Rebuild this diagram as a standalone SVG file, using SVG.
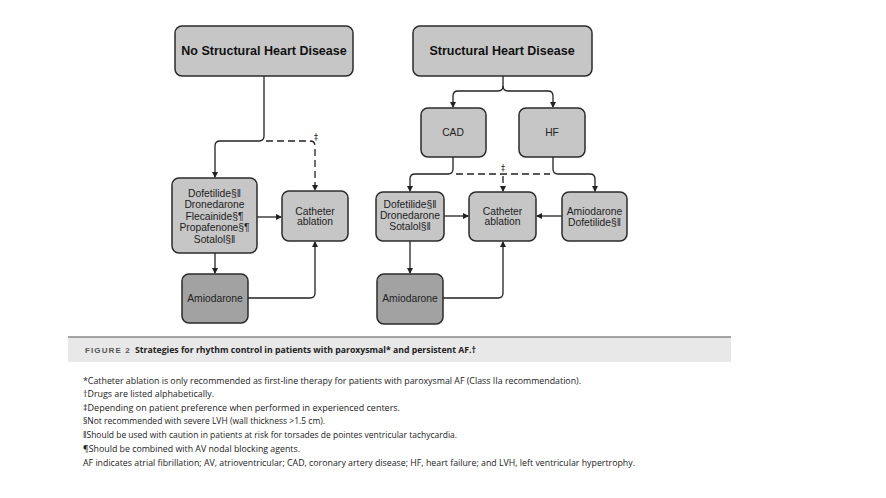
<svg xmlns="http://www.w3.org/2000/svg" width="886" height="498" viewBox="0 0 886 498">
<style>
.box{fill:#c6c6c6;stroke:#2b2b2b;stroke-width:1.5}
.dark{fill:#a2a2a2;stroke:#2b2b2b;stroke-width:1.5}
.t{font-family:"Liberation Sans",Arial,sans-serif;font-size:10.3px;fill:#222;text-anchor:middle}
.h{font-family:"Liberation Sans",Arial,sans-serif;font-size:12.5px;font-weight:bold;fill:#111;text-anchor:middle}
.ln{fill:none;stroke:#222;stroke-width:1.3}
.ds{fill:none;stroke:#222;stroke-width:1.3;stroke-dasharray:7,4}
.fn{font-family:"Open Sans","Liberation Sans",sans-serif;font-size:9.6px;fill:#222}
.sym{font-family:"DejaVu Sans",sans-serif;font-size:8px;fill:#222;text-anchor:middle}
</style>
<defs>
<marker id="ah" markerWidth="6" markerHeight="6" refX="5" refY="3" orient="auto" markerUnits="userSpaceOnUse">
<path d="M0,0 L6,3 L0,6 z" fill="#222"/>
</marker>
</defs>
<rect width="886" height="498" fill="#fff"/>

<g id="connectors">
<path class="ln" d="M264,76 V136 Q264,141 259,141 H220 Q215,141 215,146 V177" marker-end="url(#ah)"/>
<path class="ds" d="M266,141 H310 Q315,141 315,146 V190" marker-end="url(#ah)"/>
<path class="ln" d="M257,217 H281" marker-end="url(#ah)"/>
<path class="ln" d="M215,253 V273" marker-end="url(#ah)"/>
<path class="ln" d="M248,298 H310 Q315,298 315,293 V242" marker-end="url(#ah)"/>

<path class="ln" d="M503,76 V86 Q503,91 498,91 H458 Q453,91 453,96 V107" marker-end="url(#ah)"/>
<path class="ln" d="M503,86 Q503,91 508,91 H548 Q553,91 553,96 V107" marker-end="url(#ah)"/>
<path class="ln" d="M453,157 V169 Q453,174 448,174 H415 Q410,174 410,179 V191" marker-end="url(#ah)"/>
<path class="ln" d="M553,157 V169 Q553,174 558,174 H590 Q595,174 595,179 V191" marker-end="url(#ah)"/>
<path class="ds" d="M456,174 H550"/>
<path class="ds" d="M503,176 V191" marker-end="url(#ah)"/>
<path class="ln" d="M444,216 H468" marker-end="url(#ah)"/>
<path class="ln" d="M562,216 H537" marker-end="url(#ah)"/>
<path class="ln" d="M410,241 V273" marker-end="url(#ah)"/>
<path class="ln" d="M443,298 H498 Q503,298 503,293 V242" marker-end="url(#ah)"/>
<text class="sym" x="316" y="140">‡</text>
<text class="sym" x="503" y="171">‡</text>
</g>

<g id="no-shd">
<rect class="box" x="175" y="26" width="178" height="50" rx="7"/>
<text class="h" x="264" y="55">No Structural Heart Disease</text>
</g>
<g id="shd">
<rect class="box" x="413" y="26" width="179" height="50" rx="7"/>
<text class="h" x="502" y="55">Structural Heart Disease</text>
</g>
<g id="cad">
<rect class="box" x="421" y="108" width="65" height="49" rx="7"/>
<text class="t" x="453" y="136">CAD</text>
</g>
<g id="hf">
<rect class="box" x="519" y="108" width="66" height="49" rx="7"/>
<text class="t" x="552" y="136">HF</text>
</g>
<g id="drugs-left">
<rect class="box" x="172" y="178" width="85" height="75" rx="7"/>
<text class="t" x="214.5" y="197">Dofetilide§‖</text>
<text class="t" x="214.5" y="208">Dronedarone</text>
<text class="t" x="214.5" y="220">Flecainide§¶</text>
<text class="t" x="214.5" y="231">Propafenone§¶</text>
<text class="t" x="214.5" y="242.5">Sotalol§‖</text>
</g>
<g id="ablation-left">
<rect class="box" x="282" y="191" width="66" height="50" rx="7"/>
<text class="t" x="315" y="214.5">Catheter</text>
<text class="t" x="315" y="224.5">ablation</text>
</g>
<g id="amio-left">
<rect class="dark" x="182" y="274" width="66" height="49" rx="7"/>
<text class="t" x="215" y="301.5">Amiodarone</text>
</g>
<g id="drugs-cad">
<rect class="box" x="376" y="192" width="68" height="49" rx="7"/>
<text class="t" x="410" y="207.5">Dofetilide§‖</text>
<text class="t" x="410" y="218.5">Dronedarone</text>
<text class="t" x="410" y="230">Sotalol§‖</text>
</g>
<g id="ablation-right">
<rect class="box" x="469" y="192" width="67" height="49" rx="7"/>
<text class="t" x="502.5" y="214.5">Catheter</text>
<text class="t" x="502.5" y="224.5">ablation</text>
</g>
<g id="drugs-hf">
<rect class="box" x="562" y="192" width="65" height="49" rx="7"/>
<text class="t" x="594.5" y="214.5">Amiodarone</text>
<text class="t" x="594.5" y="225.5">Dofetilide§‖</text>
</g>
<g id="amio-right">
<rect class="dark" x="377" y="274" width="66" height="50" rx="7"/>
<text class="t" x="410" y="301.5">Amiodarone</text>
</g>

<g id="caption">
<rect x="68" y="337" width="663" height="25" fill="#e8e8e8"/>
<line x1="68" y1="337" x2="731" y2="337" stroke="#888" stroke-width="1.5"/>
<text x="85" y="353" font-family="'Liberation Sans',sans-serif" font-size="8px" font-weight="bold" fill="#555" letter-spacing="1.1">FIGURE 2</text>
<text x="135" y="353" font-family="'Open Sans','Liberation Sans',sans-serif" font-size="9px" font-weight="bold" fill="#222" textLength="341" lengthAdjust="spacingAndGlyphs">Strategies for rhythm control in patients with paroxysmal* and persistent AF.†</text>
</g>

<g id="footnotes">
<text class="fn" x="83" y="383.5" textLength="498" lengthAdjust="spacingAndGlyphs">*Catheter ablation is only recommended as first-line therapy for patients with paroxysmal AF (Class IIa recommendation).</text>
<text class="fn" x="83" y="397" textLength="131" lengthAdjust="spacingAndGlyphs">†Drugs are listed alphabetically.</text>
<text class="fn" x="83" y="410.7" textLength="317" lengthAdjust="spacingAndGlyphs">‡Depending on patient preference when performed in experienced centers.</text>
<text class="fn" x="83" y="424.4" textLength="242" lengthAdjust="spacingAndGlyphs">§Not recommended with severe LVH (wall thickness &gt;1.5 cm).</text>
<text class="fn" x="83" y="438" textLength="374" lengthAdjust="spacingAndGlyphs">‖Should be used with caution in patients at risk for torsades de pointes ventricular tachycardia.</text>
<text class="fn" x="83" y="451.8" textLength="217" lengthAdjust="spacingAndGlyphs">¶Should be combined with AV nodal blocking agents.</text>
<text class="fn" x="83" y="465.5" textLength="552" lengthAdjust="spacingAndGlyphs">AF indicates atrial fibrillation; AV, atrioventricular; CAD, coronary artery disease; HF, heart failure; and LVH, left ventricular hypertrophy.</text>
</g>
</svg>
